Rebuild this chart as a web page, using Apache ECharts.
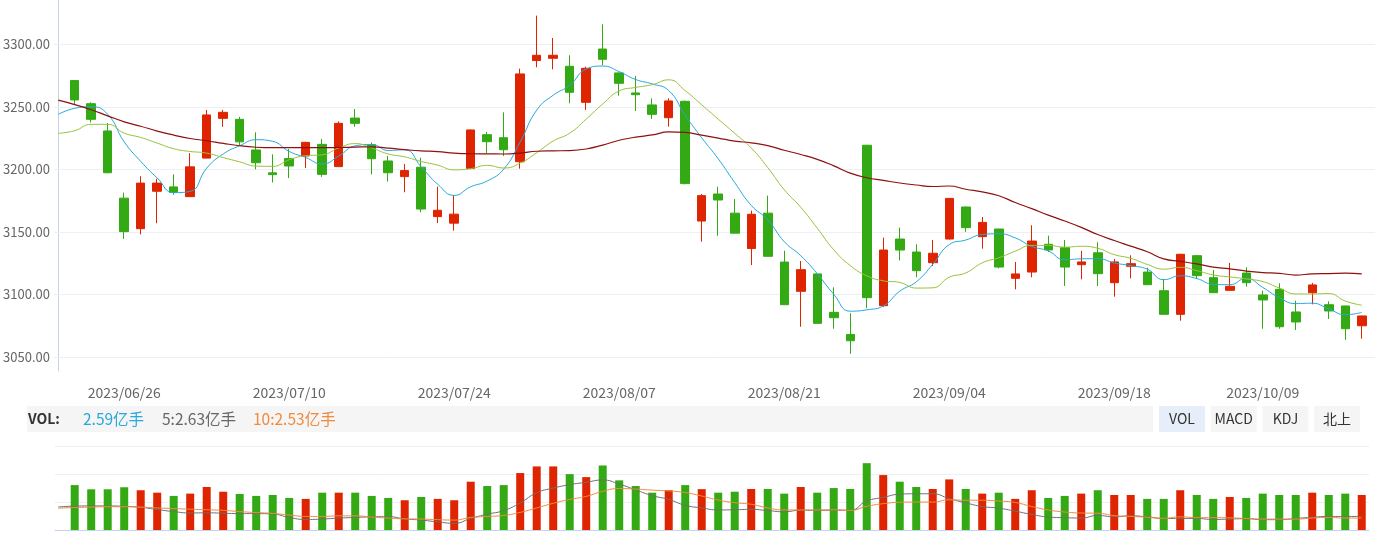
<!DOCTYPE html>
<html><head><meta charset="utf-8">
<script src="https://cdn.jsdelivr.net/npm/echarts@6/dist/echarts.min.js"></script>
<style>html,body{margin:0;padding:0;background:#fff;}#c{width:1376px;height:533px;}</style>
</head><body><div id="c"></div>
<script>
// ---------- data ----------
const dates = ['2023/06/16','2023/06/19','2023/06/20','2023/06/21','2023/06/26','2023/06/27','2023/06/28','2023/06/29','2023/06/30',
'2023/07/03','2023/07/04','2023/07/05','2023/07/06','2023/07/07','2023/07/10','2023/07/11','2023/07/12','2023/07/13','2023/07/14',
'2023/07/17','2023/07/18','2023/07/19','2023/07/20','2023/07/21','2023/07/24','2023/07/25','2023/07/26','2023/07/27','2023/07/28',
'2023/07/31','2023/08/01','2023/08/02','2023/08/03','2023/08/04','2023/08/07','2023/08/08','2023/08/09','2023/08/10','2023/08/11',
'2023/08/14','2023/08/15','2023/08/16','2023/08/17','2023/08/18','2023/08/21','2023/08/22','2023/08/23','2023/08/24','2023/08/25',
'2023/08/28','2023/08/29','2023/08/30','2023/08/31','2023/09/01','2023/09/04','2023/09/05','2023/09/06','2023/09/07','2023/09/08',
'2023/09/11','2023/09/12','2023/09/13','2023/09/14','2023/09/15','2023/09/18','2023/09/19','2023/09/20','2023/09/21','2023/09/22',
'2023/09/25','2023/09/26','2023/09/27','2023/09/28','2023/10/09','2023/10/10','2023/10/11','2023/10/12','2023/10/13','2023/10/16','2023/10/17'];

const tickLabels = ['2023/06/26','2023/07/10','2023/07/24','2023/08/07','2023/08/21','2023/09/04','2023/09/18','2023/10/09'];
const priceTicks = [3050, 3100, 3150, 3200, 3250, 3300];

const open = [null,3271,3252.5,3230.7,3177,3152.6,3182.5,3186,3178.2,3209,3240.8,3240,3215.5,3197.2,3208.6,3210.7,3220,3202.2,3241,3219.7,3206.7,
3194.2,3201.7,3162.2,3157,3200.6,3227.7,3225.3,3206.1,3287,3288.8,3282.4,3253.6,3296.2,3277.1,3261.1,3251.5,3241.3,3254.4,3158.7,3180.3,
3165,3136.7,3165,3125.9,3102.5,3116.4,3085.7,3068,3219.3,3091,3144.3,3133.9,3125.4,3144.3,3169.9,3146.2,3152.3,3112.9,3117.9,3140.1,
3137.4,3123.8,3133.3,3109.4,3122.5,3117.9,3103,3084.1,3131,3113.4,3103.3,3117.1,3099.6,3104.1,3086,3101.4,3091.8,3090.8,3075];
const close = [null,3255.5,3240,3197.3,3150.2,3189,3189,3181.6,3202,3243.5,3245.6,3222,3205.3,3195.8,3202.7,3221.6,3196,3236.8,3236.8,3208.5,3197.3,
3199,3168.3,3167.3,3164.2,3231.5,3222.1,3215.7,3276.3,3291.2,3291.2,3261.6,3280.8,3288,3268.8,3259.7,3244,3254.7,3188.6,3179,3175.5,
3149,3164.1,3130.5,3091.8,3119.8,3076.9,3081.4,3063,3097.4,3135.5,3135.5,3119,3132.9,3176.8,3153.4,3157.6,3121.9,3116.4,3142.7,3135.6,
3121.9,3126,3116.6,3126,3124.6,3107.8,3084.1,3132.1,3115,3101.4,3106.5,3109.4,3095.6,3074.2,3078,3107.6,3086.8,3072.6,3082.8];
const low = [null,3251.5,3237.5,3197,3144.4,3148,3157,3179.8,3178,3209,3234,3219.5,3200,3189.5,3193,3201,3194,3202,3234,3196,3190.2,
3181.7,3165.7,3157,3151,3200.3,3213,3210.7,3200.6,3281.6,3280,3252.8,3247.5,3283.2,3258.9,3246.7,3240.3,3234.1,3188,3142.2,3147,
3149,3123.5,3130.5,3091.8,3074.2,3076.9,3072.6,3052.6,3089,3090,3127.2,3113.7,3122.8,3144,3150,3136.6,3120.9,3104.1,3113.7,3134,
3106.8,3112.1,3106.8,3098.2,3112.9,3107.8,3084.1,3079,3112.4,3101.4,3103,3106.2,3072.6,3072.6,3071.6,3092.1,3080.4,3063.8,3064.6];
const high = [null,3271,3253.6,3237,3181.4,3194.5,3192.5,3196,3213,3247.5,3247.5,3242,3229.6,3212,3216.3,3222,3224.3,3238.4,3248.3,3221.5,3210.7,
3204.3,3209.3,3186.2,3179.5,3231.8,3230,3245.6,3280.5,3322.9,3305,3291.2,3282,3316,3277.5,3274.7,3256.8,3256.8,3255,3180.3,3186.2,
3176.3,3167,3179,3135,3126.7,3116.4,3105.7,3085,3219.5,3145.4,3153.4,3140.1,3143.5,3177,3170.3,3161.9,3152.5,3126,3155.3,3147,
3143.5,3134.8,3141.7,3128.4,3131.3,3121.4,3112.4,3132.5,3131.5,3119.6,3125.2,3121.7,3103,3108.9,3095,3109.2,3094.5,3091,3083];

const ma5 = [3244,3248.8,3250.1,3244,3222,3206.4,3193.1,3181.4,3182.4,3201.0,3212.3,3218.9,3223.7,3222.4,3214.3,3209.5,3204.3,3210.6,3218.8,3219.9,
3215.1,3215.7,3202.0,3188.1,3179.2,3186.1,3190.7,3200.2,3222.0,3247.4,3259.3,3267.2,3280.2,3282.6,3278.1,3271.8,3268.3,3263.0,3243.2,3225.2,
3208.4,3189.4,3171.2,3159.6,3142.2,3131.0,3116.6,3100.1,3086.6,3087.7,3090.8,3102.6,3110.1,3124.1,3139.9,3143.5,3147.9,3148.5,3145.2,3138.4,
3134.8,3127.7,3128.5,3128.6,3125.2,3123.0,3120.2,3111.8,3114.9,3112.7,3108.1,3107.8,3112.9,3105.6,3097.4,3092.7,3093.0,3088.4,3083.8,3085.6];
const ma10 = [3228.8,3230.9,3236,3236,3229,3225.5,3221,3216.5,3214.3,3213.0,
3209.4,3206.0,3202.6,3202.4,3207.7,3210.9,3211.6,3217.1,3220.6,3217.1,
3212.3,3210.0,3206.3,3203.4,3199.6,3200.6,3203.2,3201.1,3205.0,3213.3,
3222.7,3228.9,3240.2,3252.3,3262.7,3265.5,3267.7,3271.6,3262.9,3251.6,
3240.1,3228.8,3217.1,3201.4,3183.7,3169.7,3153.0,3135.7,3123.1,3114.9,
3110.9,3109.6,3105.1,3105.3,3113.8,3117.2,3125.3,3129.3,3134.6,3139.2,
3139.2,3137.8,3138.5,3136.9,3131.8,3128.9,3124.0,3120.2,3121.7,3119.0,
3115.6,3114.0,3112.4,3110.3,3105.1,3100.4,3100.4,3100.7,3094.7,3091.4];
const ma30 = [3255.3,3251.8,3247.7,3242.8,3238.0,3234.5,3230.6,3227.4,3224.7,3222.9,
3220.8,3218.9,3217.7,3217.3,3217.3,3217.3,3217.3,3217.5,3217.8,3218.0,
3217.0,3215.8,3214.8,3214.2,3213.0,3212.5,3212.4,3212.3,3213.0,3214.5,
3214.8,3215.0,3216.3,3219.4,3223.3,3225.7,3227.5,3229.9,3229.5,3227.3,
3225.0,3222.6,3221.2,3219.0,3215.3,3211.9,3208.0,3202.8,3197.0,3193.3,
3191.2,3189.1,3187.5,3186.3,3186.7,3184.1,3182.0,3178.9,3173.5,3168.6,
3163.4,3158.7,3153.6,3147.9,3143.1,3138.6,3134.1,3128.4,3126.5,3124.4,
3121.9,3120.5,3118.7,3117.5,3116.9,3115.5,3116.5,3116.7,3117.0,3116.5];

// volume in 亿手
const volume = [null,3.32,3.01,3.01,3.16,2.94,2.76,2.52,2.69,3.18,2.83,
2.66,2.52,2.59,2.37,2.30,2.76,2.76,2.76,2.52,2.37,
2.20,2.44,2.30,2.20,3.57,3.25,3.32,4.21,4.70,4.70,
4.13,3.91,4.77,3.67,3.25,2.76,2.94,3.32,3.02,2.76,
2.83,3.03,3.03,2.69,3.18,2.76,3.10,3.03,4.94,4.06,
3.57,3.18,3.03,3.74,3.03,2.69,2.76,2.30,2.94,2.37,
2.52,2.69,2.94,2.59,2.59,2.30,2.30,2.94,2.59,2.30,
2.44,2.37,2.69,2.59,2.59,2.76,2.59,2.69,2.59];
const volMa5 = [3.11,3.15,3.16,3.16,3.14,
3.09,2.98,2.88,2.81,2.82,2.80,2.78,2.78,2.76,2.59,
2.49,2.51,2.56,2.59,2.62,2.63,2.52,2.46,2.37,2.30,
2.54,2.75,2.93,3.31,3.81,4.04,4.21,4.33,4.44,4.24,
3.95,3.67,3.48,3.19,3.06,2.96,2.97,2.99,2.93,2.87,
2.95,2.94,2.95,2.95,3.40,3.58,3.74,3.76,3.76,3.52,
3.31,3.13,3.05,2.90,2.74,2.61,2.58,2.56,2.69,2.62,
2.67,2.62,2.54,2.54,2.54,2.49,2.51,2.53,2.48,2.48,
2.54,2.60,2.64,2.64,2.64];
const volMa10 = [3.05,3.08,3.10,3.12,3.12,3.10,3.06,3.03,3.00,2.97,
2.94,2.88,2.83,2.79,2.71,2.64,2.64,2.67,2.67,2.61,
2.56,2.52,2.51,2.48,2.46,2.59,2.64,2.69,2.84,3.06,
3.29,3.48,3.63,3.88,4.02,3.99,3.94,3.90,3.82,3.65,
3.45,3.32,3.24,3.06,2.96,2.96,2.96,2.97,2.94,3.14,
3.27,3.34,3.35,3.35,3.46,3.44,3.44,3.40,3.33,3.13,
2.96,2.86,2.81,2.80,2.68,2.64,2.60,2.55,2.62,2.58,
2.58,2.57,2.54,2.51,2.51,2.51,2.56,2.59,2.56,2.56];

const volLegendLabel = 'VOL:';
const volLegendValues = ['2.59亿手', '5:2.63亿手', '10:2.53亿手'];
const indicatorTabs = ['VOL', 'MACD', 'KDJ', '北上'];

// ---------- styles ----------
const UP = '#de2400', DOWN = '#33a914';
const C_MA5 = '#25a8dc', C_MA10 = '#97c23a', C_MA30 = '#8e1010';
const C_VMA5 = '#6f6f6f', C_VMA10 = '#f08a3c';
const FONT = "'Noto Sans CJK SC','Noto Sans',sans-serif";

const candleData = [], volData = [];
dates.forEach((d, k) => {
  if (open[k] == null) return;
  candleData.push([k, open[k], close[k], low[k], high[k]]);
  volData.push({ value: [k, volume[k]], itemStyle: { color: close[k] >= open[k] ? UP : DOWN } });
});
const pts = arr => arr.map((v, k) => [k, v]);
const tickIdx = tickLabels.map(t => dates.indexOf(t));

const lineS = (name, arr, color, xi, yi, w) => ({
  name, type: 'line', xAxisIndex: xi, yAxisIndex: yi, data: pts(arr), smooth: true,
  showSymbol: false, symbol: 'none', z: 3, silent: true,
  lineStyle: { color, width: w || 1 }
});

const graphic = [
  { type: 'rect', shape: { x: 27, y: 406, width: 1126, height: 26 }, style: { fill: '#f5f5f5' }, z: 0 },
  { type: 'text', x: 28, y: 419, style: { text: volLegendLabel, font: 'bold 14px ' + FONT, fill: '#333', verticalAlign: 'middle' } },
  { type: 'text', x: 83, y: 419, style: { text: volLegendValues[0], font: '15.5px ' + FONT, fill: '#28a8dc', verticalAlign: 'middle' } },
  { type: 'text', x: 162, y: 419, style: { text: volLegendValues[1], font: '15.5px ' + FONT, fill: '#666', verticalAlign: 'middle' } },
  { type: 'text', x: 253, y: 419, style: { text: volLegendValues[2], font: '15.5px ' + FONT, fill: '#f08a3c', verticalAlign: 'middle' } }
];
indicatorTabs.forEach((t, j) => {
  const x0 = 1159 + j * 51.7;
  graphic.push({ type: 'rect', shape: { x: x0, y: 406, width: 46, height: 26 }, style: { fill: j === 0 ? '#e6eef9' : '#f5f5f5' }, z: 0 });
  graphic.push({ type: 'text', x: x0 + 23, y: 419, style: { text: t, font: '14px ' + FONT, fill: '#333', align: 'center', verticalAlign: 'middle' } });
});

const option = {
  animation: false,
  backgroundColor: '#fff',
  textStyle: { fontFamily: FONT },
  grid: [
    { left: 54, right: 1, top: 0, height: 371 },
    { left: 55, right: 7, top: 446, height: 84 }
  ],
  xAxis: [
    { type: 'value', gridIndex: 0, min: -0.2545, max: 79.8,
      axisLine: { show: false }, axisTick: { show: false }, splitLine: { show: false },
      axisLabel: { customValues: tickIdx, formatter: v => dates[Math.round(v)], color: '#666', fontSize: 14, margin: 15, fontFamily: FONT } },
    { type: 'value', gridIndex: 1, min: -0.194, max: 79.44,
      axisLine: { show: true, onZero: false, lineStyle: { color: '#c7d4ec' } }, axisTick: { show: false },
      axisLabel: { show: false }, splitLine: { show: false } }
  ],
  yAxis: [
    { type: 'value', gridIndex: 0, min: 3038.8, max: 3335.4,
      axisLine: { show: true, lineStyle: { color: '#c7d4ec' } },
      axisTick: { show: false, customValues: priceTicks },
      axisLabel: { customValues: priceTicks, formatter: v => v.toFixed(2), color: '#666', fontSize: 13, margin: 4, fontFamily: FONT },
      splitLine: { show: false } },
    { type: 'value', gridIndex: 1, min: 0, max: 6.21, interval: 2.07,
      axisLine: { show: false }, axisTick: { show: false }, axisLabel: { show: false },
      splitLine: { show: true, lineStyle: { color: '#eceff4' } } },
    { type: 'value', gridIndex: 1, min: 1.97, max: 6.12, show: false, splitLine: { show: false } }
  ],
  series: [
    { name: 'K', type: 'candlestick', xAxisIndex: 0, yAxisIndex: 0, data: candleData, barWidth: 9, z: 2, silent: true,
      itemStyle: { color: UP, color0: DOWN, borderColor: UP, borderColor0: DOWN, borderWidth: 1 },
      markLine: { silent: true, z: 1, symbol: ['none', 'none'], label: { show: false },
        lineStyle: { color: '#eceff4', width: 1, type: 'solid' },
        emphasis: { disabled: true },
        data: priceTicks.map(v => ({ yAxis: v })) } },
    lineS('MA5', ma5, C_MA5, 0, 0, 1),
    lineS('MA10', ma10, C_MA10, 0, 0, 1),
    lineS('MA30', ma30, C_MA30, 0, 0, 1.2),
    { name: 'VOL', type: 'bar', xAxisIndex: 1, yAxisIndex: 1, data: volData, barWidth: 8, silent: true, z: 2 },
    lineS('VMA5', volMa5, C_VMA5, 1, 2, 1),
    lineS('VMA10', volMa10, C_VMA10, 1, 2, 1)
  ],
  graphic
};
const chart = echarts.init(document.getElementById('c'), null, { renderer: 'canvas' });
chart.setOption(option);
</script>
</body></html>
